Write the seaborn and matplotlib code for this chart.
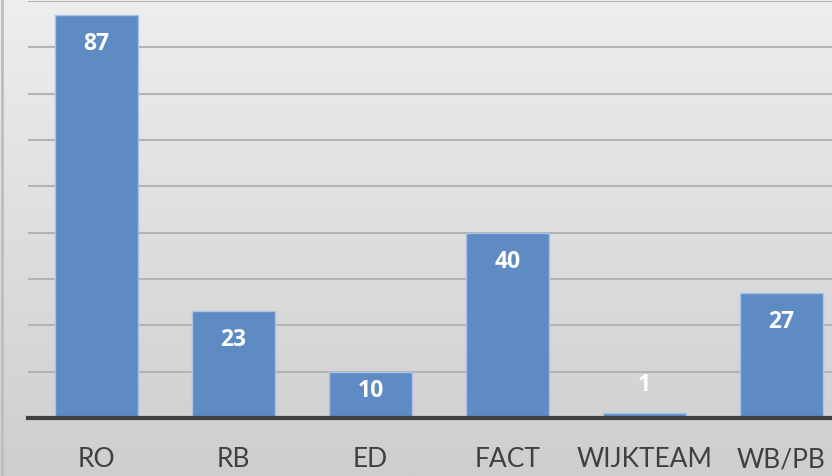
import numpy as np
import pandas as pd
import matplotlib.pyplot as plt
import seaborn as sns

categories = ["RO", "RB", "ED", "FACT", "WIJKTEAM", "WB/PB"]
values = [87, 23, 10, 40, 1, 27]

sns.set_theme(style="white")
plt.rcParams["font.family"] = ["Lato", "DejaVu Sans"]

W, H = 832, 476
fig = plt.figure(figsize=(W / 100, H / 100), dpi=100)

# gradient background
bg = fig.add_axes([0, 0, 1, 1])
grad = np.linspace(0, 1, 256).reshape(-1, 1)
bg.imshow(grad, aspect="auto", cmap=sns.blend_palette(["#eeeeee", "#cecece"], as_cmap=True),
          extent=[0, 1, 0, 1], origin="upper")
bg.axvline(0.003, color="#bdbdbd", lw=2)
bg.set_axis_off()

left = 28 / W
bottom = (H - 418) / H
top = (H - 1) / H
ax = fig.add_axes([left, bottom, 1 - left, top - bottom])
ax.patch.set_alpha(0)

df = pd.DataFrame({"cat": categories, "val": values})
sns.barplot(data=df, x="cat", y="val", color="#5e8bc4", saturation=1, width=0.6,
            edgecolor="#a9c3e6", linewidth=1, ax=ax, zorder=3)

ax.set_ylim(0, 90)
ax.set_xlim(-0.5, 5.5 - 18 / 137)
ax.set_yticks(np.arange(10, 91, 10))
ax.yaxis.grid(True, color="#b3b3b3", lw=1.5, zorder=0)
ax.set_yticklabels([])
ax.tick_params(left=False, bottom=False, axis="x", pad=15, labelsize=19, labelcolor="#404040")
ax.set_xlabel("")
ax.set_ylabel("")
for s in ["top", "right", "left"]:
    ax.spines[s].set_visible(False)
ax.spines["bottom"].set_color("#404040")
ax.spines["bottom"].set_linewidth(3)
ax.spines["bottom"].set_zorder(4)

fig.canvas.draw()
px_per_unit = ax.transData.transform((0, 1))[1] - ax.transData.transform((0, 0))[1]
for i, v in enumerate(values):
    h = v * px_per_unit
    dy = -min(29, 0.42 * h) if h > 30 else 28
    ax.annotate(str(v), (i, v), xytext=(0, dy), textcoords="offset pixels",
                ha="center", va="center", color="white", fontsize=16.5,
                fontweight="bold", family=["Open Sans", "DejaVu Sans"], zorder=5)

fig.savefig("out.png", dpi=100)
